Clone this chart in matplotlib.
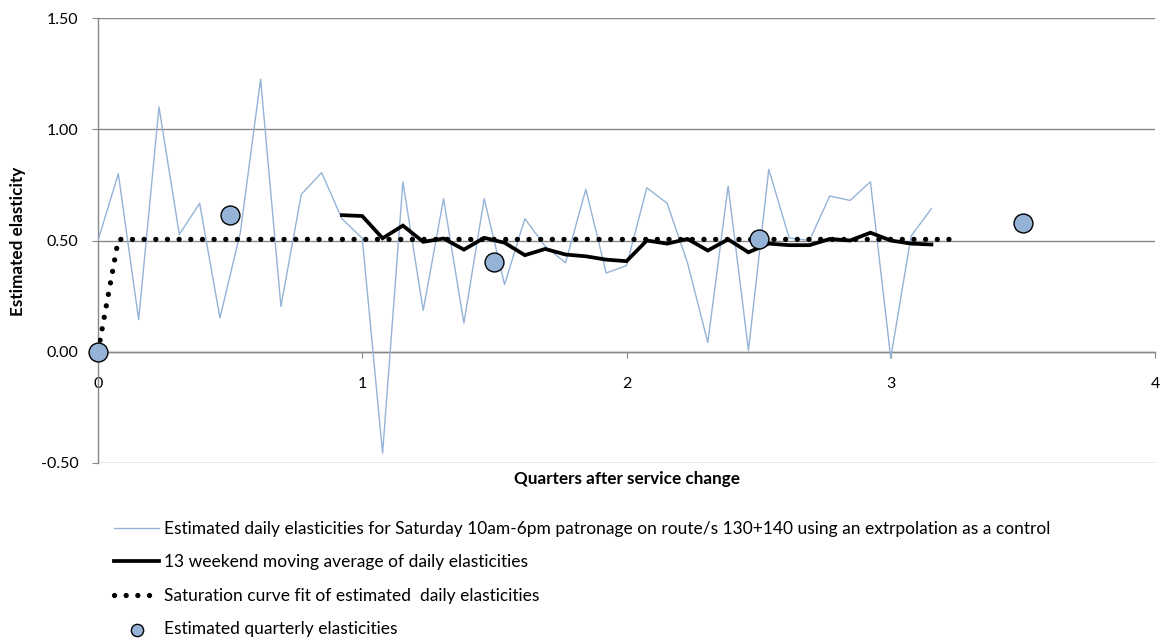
import matplotlib
matplotlib.use("Agg")
import matplotlib.pyplot as plt
import numpy as np

plt.rcParams['font.family'] = ['Lato', 'DejaVu Sans']

# Weekly (Saturday) observations; 13 weekends per quarter
weeks_per_quarter = 13

daily_elasticity = [
    0.50, 0.80, 0.144, 1.10, 0.527, 0.667, 0.152, 0.535, 1.225, 0.204,
    0.707, 0.805, 0.598, 0.51, -0.456, 0.763, 0.186, 0.688, 0.129, 0.688,
    0.302, 0.598, 0.474, 0.40, 0.73, 0.354, 0.387, 0.737, 0.667, 0.40,
    0.042, 0.745, 0.006, 0.82, 0.512, 0.50, 0.70, 0.68, 0.764, -0.028,
    0.52, 0.643,
]

# 13-weekend trailing moving average, first value at week 12
moving_avg_start = 12
moving_avg = [
    0.614, 0.61, 0.51, 0.567, 0.494, 0.509, 0.459, 0.512, 0.49, 0.434,
    0.462, 0.437, 0.429, 0.414, 0.407, 0.50, 0.486, 0.507, 0.455, 0.505,
    0.447, 0.486, 0.479, 0.479, 0.507, 0.50, 0.535, 0.50, 0.486, 0.482,
]

# Saturation curve fit, evaluated weekly
saturation_fit = [
    0.0, 0.505, 0.505, 0.505, 0.505, 0.505, 0.505, 0.505, 0.505, 0.505,
    0.505, 0.505, 0.505, 0.505, 0.505, 0.505, 0.505, 0.505, 0.505, 0.505,
    0.505, 0.505, 0.505, 0.505, 0.505, 0.505, 0.505, 0.505, 0.505, 0.505,
    0.505, 0.505, 0.505, 0.505, 0.505, 0.505, 0.505, 0.505, 0.505, 0.505,
    0.505, 0.505, 0.505,
]

quarter_pos = [0.0, 0.5, 1.5, 2.5, 3.5]
quarterly_elasticity = [0.00, 0.613, 0.405, 0.505, 0.577]

x_ticks = [0, 1, 2, 3, 4]
y_ticks = [-0.5, 0.0, 0.5, 1.0, 1.5]
y_tick_labels = ["-0.50", "0.00", "0.50", "1.00", "1.50"]

labels = [
    "Estimated daily elasticities for Saturday 10am-6pm patronage on route/s 130+140 using an extrpolation as a control",
    "13 weekend moving average of daily elasticities",
    "Saturation curve fit of estimated  daily elasticities",
    "Estimated quarterly elasticities",
]

blue = "#95B3D7"
grid_gray = "#878787"

fig = plt.figure(figsize=(11.6, 6.41), dpi=100)
ax = fig.add_axes([98 / 1160, 1 - 463 / 641, 1057 / 1160, 445 / 641])

x_daily = np.arange(len(daily_elasticity)) / weeks_per_quarter
x_ma = (np.arange(len(moving_avg)) + moving_avg_start) / weeks_per_quarter
x_fit = np.arange(len(saturation_fit)) / weeks_per_quarter

l1, = ax.plot(x_daily, daily_elasticity, color=blue, lw=1.0, zorder=3)
l2, = ax.plot(x_ma, moving_avg, color="black", lw=2.7, zorder=4,
              solid_joinstyle="miter")
l3, = ax.plot(x_fit, saturation_fit, color="black", lw=3.8, zorder=5,
              linestyle=(0, (0.01, 2.2)), dash_capstyle="round")
sc = ax.scatter(quarter_pos, quarterly_elasticity, s=185, color=blue,
                edgecolor="black", linewidth=1.0, zorder=6, clip_on=False)

ax.set_xlim(0, 4)
ax.set_ylim(-0.5, 1.5)
ax.set_xticks(x_ticks)
ax.set_xticklabels([str(t) for t in x_ticks])
ax.set_yticks(y_ticks)
ax.set_yticklabels(y_tick_labels)

ax.grid(axis="y", color=grid_gray, lw=1.0)
ax.set_axisbelow(True)
for side in ("top", "right"):
    ax.spines[side].set_visible(False)
ax.spines["left"].set_color(grid_gray)
ax.spines["left"].set_linewidth(1.0)
ax.spines["bottom"].set_position(("data", 0))
ax.spines["bottom"].set_color(grid_gray)
ax.spines["bottom"].set_linewidth(1.0)

ax.tick_params(axis="y", length=4, color=grid_gray, pad=10, labelsize=11.5,
               labelcolor="black")
ax.tick_params(axis="x", length=4, color=grid_gray, pad=14, labelsize=11.5,
               labelcolor="black")

fig.text(18 / 1160, 1 - 241 / 641, "Estimated elasticity", rotation=90,
         ha="center", va="center", fontsize=12.3, fontweight="bold")
fig.text(627 / 1160, 1 - 479 / 641, "Quarters after service change",
         ha="center", va="center", fontsize=12.3, fontweight="bold")

fig.legend([l1, l2, l3, sc], labels, loc="upper left",
           bbox_to_anchor=(114 / 1160, 1 - 521 / 641), frameon=False,
           fontsize=12.5, handlelength=2.6, handletextpad=0.3,
           labelspacing=1.0, markerscale=0.65, borderpad=0, borderaxespad=0)

fig.savefig("out.png", dpi=100)
